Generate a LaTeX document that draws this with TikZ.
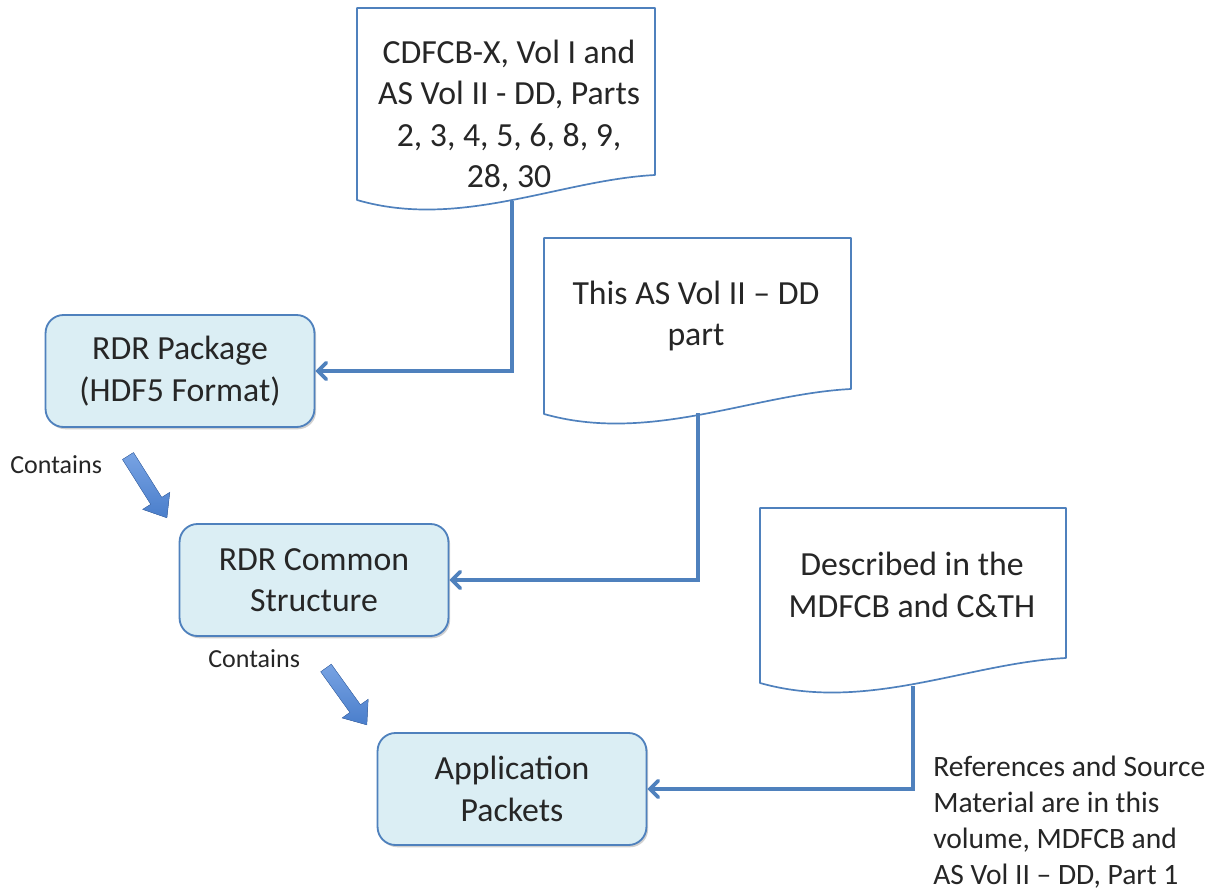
\documentclass[tikz,border=0pt]{standalone}
\usepackage{fontspec}
\setmainfont{Carlito}
\usetikzlibrary{arrows.meta,shadows}
\definecolor{lineblue}{HTML}{4F81BD}
\definecolor{boxfill}{HTML}{DBEEF4}
\definecolor{arrowlight}{HTML}{78A3E3}
\definecolor{arrowdark}{HTML}{4A7ECB}
\tikzset{
    stepbox/.style={
        rectangle,
        rounded corners=0.45cm,
        draw=lineblue, % rand
        fill=boxfill,
        line width=1.3pt,
        minimum width=6.72cm,
        minimum height=2.8cm,
        align=center,
        text=black!85,
        font=\fontsize{24}{29.5}\selectfont,
        drop shadow={shadow xshift=1.2pt, shadow yshift=-1.6pt, opacity=0.3, fill=black!60}
    },
    docline/.style={
        draw=lineblue,
        fill=white,
        line width=1.2pt,
        line join=round
    },
    doctext/.style={
        align=center,
        text=black!85,
        font=\fontsize{24}{29.5}\selectfont
    },
    link/.style={
        draw=lineblue,
        line width=2.6pt,
        line join=miter,
        -{Straight Barb[length=6pt,width=12pt,line cap=round]}
    },
    fatarrow/.style={
        top color=arrowlight,
        bottom color=arrowdark,
        draw=arrowdark!90!black,
        line width=0.3pt
    },
    smalltext/.style={
        text=black!85,
        font=\fontsize{18.5}{22}\selectfont
    },
    notetext/.style={
        align=left,
        text=black!85,
        font=\fontsize{21}{25.6}\selectfont
    }
}

\begin{document}
\begin{tikzpicture}[x=0.025cm, y=-0.025cm]
    \useasboundingbox[fill=white] (0,0) rectangle (1224,894);

    % Dokumente
    \draw[docline] (357,8) -- (655,8) -- (655,175)
        .. controls (560,180) and (460,230) .. (357,200) -- cycle;
    \draw[docline] (544,238) -- (851,238) -- (851,389)
        .. controls (753,394) and (650,444) .. (544,414) -- cycle;
    \draw[docline] (760,508) -- (1066,508) -- (1066,658)
        .. controls (968,663) and (866,713) .. (760,683) -- cycle;
    \coordinate (cdfcb) at (512,201);
    \coordinate (thispart) at (698,413);
    \coordinate (mdfcb) at (913,686);

    \node[doctext] (cdfcbtext) at (509,116) {CDFCB-X, Vol I and\\AS Vol II - DD, Parts\\2, 3, 4, 5, 6, 8, 9,\\28, 30};
    \node[doctext] (parttext) at (696,316) {This AS Vol II -- DD\\part};
    \node[doctext] (mdfcbtext) at (912,585) {Described in the\\MDFCB and C\&TH};

    % Kaesten
    \node[stepbox] (package) at (180,371) {RDR Package\\(HDF5 Format)};
    \node[stepbox] (common) at (314,580) {RDR Common\\Structure};
    \node[stepbox] (packets) at (512,789) {Application\\Packets};

    % Verbindungen
    \draw[link] (cdfcb) |- (package.east);
    \draw[link] (thispart) |- (common.east);
    \draw[link] (mdfcb) |- (packets.east);

    % Contains
    \node[smalltext, anchor=west, inner sep=0] (contains1) at (10,465) {Contains};
    \node[smalltext, anchor=west, inner sep=0] (contains2) at (208,659) {Contains};
    \fill[fatarrow, shift={(128,456)}, rotate=-57.8]
        (0,6.5) -- (53,6.5) -- (53,16) -- (73,0) -- (53,-16) -- (53,-6.5) -- (0,-6.5) -- cycle;
    \fill[fatarrow, shift={(326,668)}, rotate=-54.3]
        (0,6.5) -- (50,6.5) -- (50,16) -- (70,0) -- (50,-16) -- (50,-6.5) -- (0,-6.5) -- cycle;

    \node[notetext, anchor=west, inner sep=0] (refs) at (933,822)
        {References and Source\\Material are in this\\volume, MDFCB and\\AS Vol II -- DD, Part 1};
\end{tikzpicture}
\end{document}
